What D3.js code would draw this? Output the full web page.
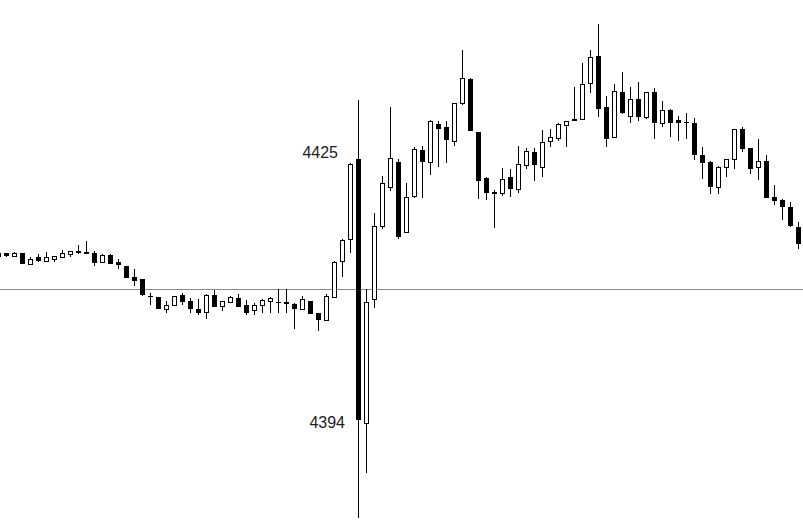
<!DOCTYPE html>
<html>
<head>
<meta charset="utf-8">
<script src="https://cdn.jsdelivr.net/npm/d3@7"></script>
<style>
  html, body { margin: 0; padding: 0; background: #ffffff; overflow: hidden; }
  svg { display: block; }
</style>
</head>
<body>
<svg id="chart" width="803" height="524"></svg>
<script>
// ---- data ----
const opens = [4413.9,4413.8,4413.5,4413.8,4412.6,4413.4,4412.95,4413.1,4413.4,4413.75,
  4414.15,4413.9,4413.9,4412.8,4413.65,4412.75,4412.3,4411.05,4410.75,4408.7,
  4408.6,4407.25,4407.65,4408.85,4408.2,4407.15,4406.9,4408.9,4407.55,4408.05,
  4408.5,4407.65,4407.1,4407.65,4408.2,4408.05,4408.05,4407.8,4407.15,4408.1,
  4406.7,4405.9,4408.65,4412.85,4415.5,4425,4393.7,4408.4,4417.1,4421.65,
  4424.7,4416.4,4420.65,4426.1,4424.7,4429.2,4428.8,4427.2,4431.65,4434.55,
  4428.25,4422.8,4421.05,4420.95,4422.85,4421.5,4424.3,4425.85,4424.05,4427.15,
  4427.55,4429.05,4429.75,4429.75,4434.05,4437.3,4431.2,4427.6,4433.0,4430.15,
  4432.15,4430.05,4433.0,4429.3,4430.85,4429.65,4429.45,4429.3,4425.5,4424.7,
  4421.75,4424.05,4425.0,4428.55,4426.35,4424.05,4424.75,4420.5,4420.15,4419.3,
  4417.0];
const highs = [4414.0,4413.9,4414.0,4413.9,4413.35,4413.75,4414.0,4413.55,4414.2,4414.1,
  4414.8,4415.3,4414.05,4413.7,4413.7,4413.1,4412.35,4411.9,4410.8,4409.05,
  4408.65,4408.1,4408.8,4409.05,4408.5,4408.35,4408.95,4409.4,4408.15,4408.75,
  4409.0,4408.25,4407.95,4408.4,4408.65,4409.55,4409.55,4407.9,4408.75,4408.15,
  4406.75,4409.0,4412.9,4415.55,4424.55,4432.05,4409.55,4418.6,4423.0,4431.25,
  4425.05,4422.2,4426.5,4426.6,4429.7,4429.55,4429.6,4431.75,4438.0,4434.65,
  4428.3,4422.85,4421.35,4423.95,4423.8,4426.6,4426.35,4426.35,4428.5,4428.65,
  4429.3,4429.55,4433.55,4436.4,4438.0,4441.1,4432.5,4433.95,4435.4,4433.55,
  4434.2,4433.05,4433.5,4431.95,4431.0,4430.15,4430.55,4429.9,4426.5,4424.85,
  4424.2,4425.05,4428.6,4428.9,4426.4,4427.45,4425.5,4421.9,4420.25,4419.9,
  4417.55];
const lows = [4413.2,4413.4,4413.4,4412.5,4412.45,4412.8,4412.9,4412.8,4413.35,4413.4,
  4413.75,4413.75,4412.3,4412.7,4412.5,4411.9,4410.85,4409.95,4408.8,4407.7,
  4407.2,4406.7,4407.6,4407.65,4406.7,4406.5,4406.05,4407.4,4407.0,4407.9,
  4407.4,4406.5,4406.45,4406.75,4406.75,4406.75,4406.75,4404.85,4407.05,4406.55,
  4404.55,4405.85,4408.6,4411.05,4413.8,4382.3,4387.75,4407.3,4416.7,4421.25,
  4415.5,4416.35,4420.45,4420.45,4423.15,4424.1,4424.6,4426.6,4431.45,4428.35,
  4420.3,4420.15,4416.85,4420.65,4420.5,4420.95,4423.8,4422.4,4422.85,4426.45,
  4427.15,4426.45,4429.5,4429.7,4432.9,4430.05,4426.5,4427.55,4430.4,4429.35,
  4429.6,4429.75,4427.45,4428.8,4427.6,4427.2,4427.45,4424.9,4422.7,4420.85,
  4420.85,4422.95,4423.9,4425.85,4423.25,4422.55,4420.35,4419.6,4417.8,4417.0,
  4414.35];
const closes = [4413.4,4413.5,4413.9,4412.6,4413.2,4412.95,4413.35,4413.5,4413.9,4414.05,
  4413.9,4413.95,4412.7,4413.65,4412.55,4412.4,4410.9,4410.55,4408.85,4408.65,
  4407.25,4407.7,4408.75,4408.05,4407.15,4406.75,4408.9,4407.45,4408.1,4408.6,
  4407.45,4406.7,4407.7,4408.25,4408.5,4407.95,4407.8,4407.15,4408.35,4406.6,
  4405.9,4408.75,4412.75,4415.4,4424.5,4394,4408.05,4417.05,4422.15,4425.15,
  4415.8,4420.5,4426.25,4424.7,4429.55,4428.65,4427.35,4431.7,4434.65,4428.4,
  4422.45,4421.05,4421.1,4422.6,4421.45,4424.45,4425.95,4424.3,4427.05,4427.6,
  4429.15,4429.5,4429.6,4433.9,4437.15,4431.0,4427.4,4433.1,4430.45,4432.15,
  4430.05,4433.0,4429.3,4430.85,4429.35,4429.3,4429.3,4425.55,4424.6,4421.75,
  4424.05,4425.0,4428.55,4426.25,4423.9,4424.75,4420.4,4420.1,4419.3,4417.05,
  4414.95];
const priceLabels = [4425, 4394];
const referencePrice = 4409.6;

// ---- build ----
const width = 803, height = 524;
const svg = d3.select("#chart");
svg.append("rect").attr("width", width).attr("height", height).attr("fill", "#ffffff");

const candles = opens.map((o, i) => ({ i, o, h: highs[i], l: lows[i], c: closes[i] }));

const x = d3.scaleLinear().domain([0, candles.length - 1]).range([-2, 798]);
const y = d3.scaleLinear().domain([4394, 4425]).range([420, 159.3]);

// reference line
const ry = Math.round(y(referencePrice)) + 0.5;
svg.append("line")
  .attr("x1", 0).attr("x2", width)
  .attr("y1", ry).attr("y2", ry)
  .attr("stroke", "#858b92").attr("stroke-width", 1);

const g = svg.append("g").attr("shape-rendering", "crispEdges");

// wicks
g.selectAll("line.wick").data(candles).join("line")
  .attr("class", "wick")
  .attr("x1", d => Math.round(x(d.i)) + 0.5)
  .attr("x2", d => Math.round(x(d.i)) + 0.5)
  .attr("y1", d => Math.round(y(d.h)))
  .attr("y2", d => Math.round(y(d.l)))
  .attr("stroke", "#000").attr("stroke-width", 1);

// bodies
g.selectAll("rect.body").data(candles).join("rect")
  .attr("class", "body")
  .each(function(d) {
    const cx = Math.round(x(d.i));
    const top = Math.round(y(Math.max(d.o, d.c)));
    const bot = Math.round(y(Math.min(d.o, d.c)));
    const up = d.c >= d.o;
    const sel = d3.select(this);
    if (up) {
      sel.attr("x", cx - 2 + 0.5).attr("width", 4)
         .attr("y", top + 0.5).attr("height", Math.max(0, bot - top))
         .attr("fill", "#ffffff").attr("stroke", "#000").attr("stroke-width", 1);
    } else {
      sel.attr("x", cx - 2).attr("width", 5)
         .attr("y", top).attr("height", Math.max(1, bot - top))
         .attr("fill", "#000");
    }
  });

// price labels
const labelPos = [
  { v: priceLabels[0], x: 338, dy: -1 },
  { v: priceLabels[1], x: 345, dy: 8 }
];
svg.selectAll("text.plabel").data(labelPos).join("text")
  .attr("class", "plabel")
  .attr("x", d => d.x)
  .attr("y", d => y(d.v) + d.dy)
  .attr("text-anchor", "end")
  .attr("font-family", "'Liberation Sans', Arial, sans-serif")
  .attr("font-size", 16)
  .attr("fill", "#1c1c24")
  .text(d => d.v);
</script>
</body>
</html>
